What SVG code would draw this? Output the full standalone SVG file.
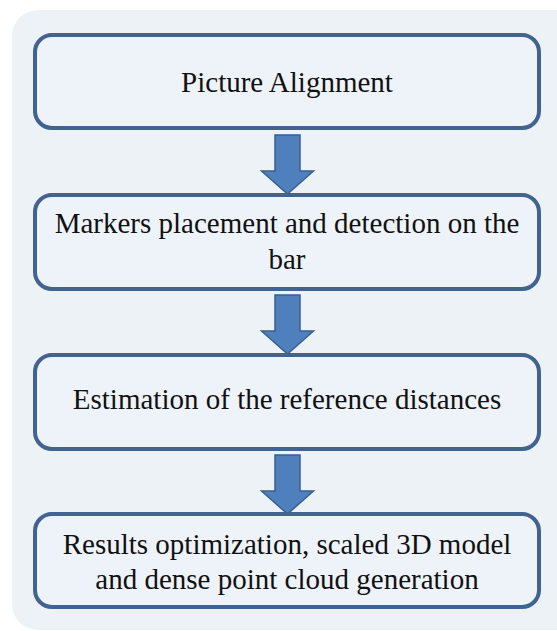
<svg xmlns="http://www.w3.org/2000/svg" width="557" height="631" viewBox="0 0 557 631">
  <style>
    .step { fill: #eef3f9; stroke: #41638f; stroke-width: 4; }
    .label { font-family: 'Liberation Serif', 'DejaVu Serif', 'Times New Roman', serif; font-size: 29px; fill: #111111; text-anchor: middle; }
    .flow { fill: #4f7fbd; stroke: #3a5f8e; stroke-width: 1.5; stroke-linejoin: miter; }
  </style>
  <defs>
    <!-- block arrow, tip at origin -->
    <path id="down" d="M -12.5 -59 H 12.5 V -23 H 26 L 0 0 L -26 -23 H -12.5 Z"/>
  </defs>
  <rect id="panel" x="12" y="10" width="570" height="620" rx="26" fill="#edf2f7"/>
  <g id="connectors">
    <use href="#down" class="flow" x="287.5" y="194"/>
    <use href="#down" class="flow" x="287.5" y="354"/>
    <use href="#down" class="flow" x="287.5" y="514"/>
  </g>
  <g id="step1">
    <rect class="step" x="35" y="35" width="504" height="93" rx="17"/>
    <text class="label" x="287" y="92">Picture Alignment</text>
  </g>
  <g id="step2">
    <rect class="step" x="35" y="195" width="504" height="94" rx="17"/>
    <text class="label" x="287" y="233">Markers placement and detection on the</text>
    <text class="label" x="287" y="269">bar</text>
  </g>
  <g id="step3">
    <rect class="step" x="35" y="355" width="504" height="94" rx="17"/>
    <text class="label" x="287" y="409">Estimation of the reference distances</text>
  </g>
  <g id="step4">
    <rect class="step" x="35" y="514" width="504" height="93" rx="17"/>
    <text class="label" x="287" y="554">Results optimization, scaled 3D model</text>
    <text class="label" x="287" y="589">and dense point cloud generation</text>
  </g>
</svg>
